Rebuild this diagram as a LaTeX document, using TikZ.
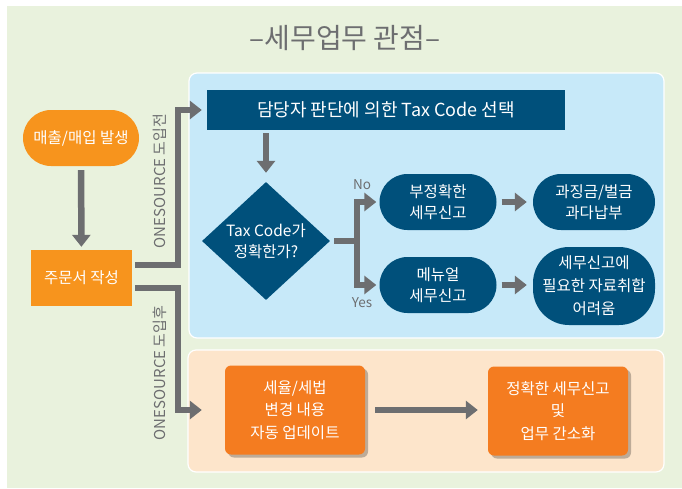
\documentclass[tikz,border=0pt]{standalone}
\usepackage{fontspec}
\setmainfont{Noto Sans CJK KR}
\usetikzlibrary{arrows.meta,shapes.geometric,shadows,positioning}

\definecolor{bggreen}{HTML}{E9F2DD}
\definecolor{panelblue}{HTML}{C7E9F9}
\definecolor{panelorange}{HTML}{FDE5CB}
\definecolor{navy}{HTML}{00507B}
\definecolor{orangeA}{HTML}{F7941D}
\definecolor{orangeB}{HTML}{F47C20}
\definecolor{arrowgray}{HTML}{6D6E70}

\tikzset{
  flow/.style={line width=6.5pt, draw=arrowgray},
  arr/.style={flow, -{Triangle[length=12pt,width=18pt]}},
  boxtext/.style={text=white, align=center, inner sep=0pt, font={\fontsize{15.5}{21}\selectfont}},
  navypill/.style={boxtext, fill=navy, rounded corners=28pt, minimum width=117pt, minimum height=56pt},
  orbox/.style={boxtext, fill=orangeB, rounded corners=6pt, minimum width=140pt, minimum height=89pt,
    font={\fontsize{15.5}{22.5}\selectfont},
    drop shadow={shadow xshift=3pt, shadow yshift=-3pt, opacity=0.25, fill=black}},
  sidelabel/.style={rotate=90, text=arrowgray, font={\fontsize{15}{15}\selectfont}},
  yesno/.style={text=arrowgray, font={\fontsize{13.5}{13.5}\selectfont}},
}

\begin{document}
\begin{tikzpicture}[x=1pt,y=-1pt]
    \useasboundingbox (0,0) rectangle (682,488);
    % panels
    \fill[bggreen] (7,6) rectangle (682,488);
    \draw[white, line width=1.2pt, fill=panelblue, rounded corners=8pt] (189,73) rectangle (664,338);
    \draw[white, line width=1.2pt, fill=panelorange, rounded corners=8pt] (188,350) rectangle (664,472);

    \node[text=arrowgray, font={\fontsize{28}{28}\selectfont}] (title) at (345,38) {–세무업무 관점–};

    % left column
    \node[boxtext, fill=orangeA, rounded corners=28pt, minimum width=116pt, minimum height=56pt] (sale) at (81,138) {매출/매입 발생};
    \node[boxtext, fill=orangeA, minimum width=101pt, minimum height=56pt] (order) at (81.5,278) {주문서 작성};
    \draw[arr, shorten <=4pt, shorten >=3pt] (sale) -- (order);

    % before
    \node[boxtext, fill=navy, minimum width=358pt, minimum height=40pt, font={\fontsize{18}{18}\selectfont}] (choose) at (386,110) {담당자 판단에 의한 Tax Code 선택};
    \node[boxtext, fill=navy, diamond, minimum width=128pt, minimum height=118pt, aspect=1.08] (check) at (266,241) {Tax Code가\\정확한가?};
    \node[navypill] (wrong) at (438,202) {부정확한\\세무신고};
    \node[navypill, minimum width=122pt] (penalty) at (594,202) {과징금/벌금\\과다납부};
    \node[navypill] (manual) at (438,285) {메뉴얼\\세무신고};
    \node[navypill, minimum width=122pt, minimum height=78pt, rounded corners=36pt, font={\fontsize{15.5}{23}\selectfont}] (hard) at (594,286) {세무신고에\\필요한 자료취합\\어려움};

    \draw[arr, shorten <=3pt] ([yshift=13pt]order.east) -| ([xshift=-29pt]choose.west) -- ([xshift=-5pt]choose.west);
    \node[sidelabel] (beforelbl) at (160,181) {ONESOURCE 도입전};
    \draw[arr, shorten <=3pt, shorten >=9pt] ([xshift=-120pt]choose.south) -- (check.north);

    \coordinate (fork) at (357,241);
    \draw[flow, shorten <=4pt] (check.east) -- (fork);
    \draw[arr, shorten >=3pt] (fork) |- (wrong.west);
    \draw[arr, shorten >=3pt] (fork) |- (manual.west);
    \node[yesno] (no) at (362,185) {No};
    \node[yesno] (yes) at (362,303) {Yes};

    \draw[arr, shorten <=5pt, shorten >=6pt] (wrong) -- (penalty);
    \draw[arr, shorten <=5pt, shorten >=6pt] (manual) -- (manual -| hard.west);

    % after
    \node[orbox] (rate) at (295,410) {세율/세법\\변경 내용\\자동 업데이트};
    \node[orbox] (goal) at (558,411) {정확한 세무신고\\및\\업무 간소화};

    \draw[arr, shorten <=3pt] ([yshift=-10pt]order.east) -| ([xshift=-47pt]rate.west) -- ([xshift=-23pt]rate.west);
    \node[sidelabel] (afterlbl) at (160,373) {ONESOURCE 도입후};
    \draw[arr, shorten <=10pt, shorten >=10pt] (rate) -- (rate -| goal.west);
\end{tikzpicture}
\end{document}
